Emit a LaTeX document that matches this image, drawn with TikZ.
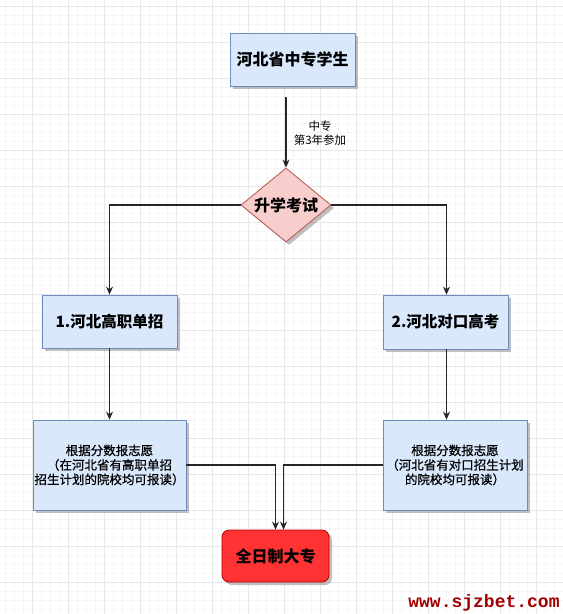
\documentclass[tikz,border=0pt]{standalone}
\usepackage{fontspec}
\setmainfont{Noto Sans CJK SC}
\newfontfamily\darkcjk{Noto Sans CJK SC}[FakeBold=0.6]
\newfontfamily\wmfont{Liberation Mono}
\usetikzlibrary{shapes.geometric,shadows,arrows.meta}
\definecolor{gridmajor}{HTML}{E8E8E8}
\definecolor{gridminor}{HTML}{F6F6F6}
\definecolor{bluefill}{HTML}{DAE8FC}
\definecolor{blueline}{HTML}{6C8EBF}
\definecolor{pinkfill}{HTML}{F8CECC}
\definecolor{pinkline}{HTML}{B85450}
\definecolor{redfill}{HTML}{FF3333}
\definecolor{redline}{HTML}{B20000}
\definecolor{wmred}{HTML}{A00000}
\tikzset{
  shade box/.style={drop shadow={shadow xshift=3pt,shadow yshift=-3pt,fill=black!45,opacity=.55}},
  bluebox/.style={draw=blueline,fill=bluefill,line width=0.8pt,shade box,inner sep=0pt,align=center},
  decision/.style={diamond,draw=pinkline,fill=pinkfill,line width=0.8pt,shade box,inner sep=0pt,aspect=1.6,minimum width=90pt,minimum height=74pt},
  endbox/.style={draw=redline,fill=redfill,line width=0.8pt,rounded corners=7pt,shade box,inner sep=0pt},
  arr/.style={draw=black!85,line width=1.1pt,-{Stealth[length=8pt,width=7pt]}},
  bigtext/.style={font=\bfseries\fontsize{16}{19}\selectfont},
  smalltext/.style={font=\darkcjk\fontsize{12.5}{14.5}\selectfont},
}
\begin{document}
\begin{tikzpicture}[x=1pt,y=-1pt]
\useasboundingbox (0,0) rectangle (563,614);
\fill[white] (0,0) rectangle (563,614);
% grid
\foreach \x in {5,14,...,563} \draw[gridminor,line width=0.6pt] (\x,0) -- (\x,614);
\foreach \y in {6,15,...,614} \draw[gridminor,line width=0.6pt] (0,\y) -- (563,\y);
\foreach \x in {32,68,...,563} \draw[gridmajor,line width=0.8pt] (\x,0) -- (\x,614);
\foreach \y in {6,42,...,614} \draw[gridmajor,line width=0.8pt] (0,\y) -- (563,\y);

% nodes
\node[bluebox,bigtext,minimum width=125pt,minimum height=53pt] (top) at (292.5,59.5) {河北省中专学生};
\node[decision,bigtext] (dia) at (286,205) {升学考试};
\node[bluebox,font=\bfseries\fontsize{15.5}{18}\selectfont,minimum width=135pt,minimum height=53pt] (b1) at (109.5,321.5) {1.河北高职单招};
\node[bluebox,font=\bfseries\fontsize{15.5}{18}\selectfont,minimum width=125pt,minimum height=54pt] (b2) at (445.5,322) {2.河北对口高考};
\node[bluebox,smalltext,minimum width=153pt,minimum height=90pt] (b3) at (109.5,465) {根据分数报志愿\\（在河北省有高职单招\\招生计划的院校均可报读）};
\node[bluebox,smalltext,minimum width=144pt,minimum height=90pt] (b4) at (455,465) {根据分数报志愿\\（河北省有对口招生计划\\的院校均可报读）};
\node[endbox,bigtext,minimum width=107pt,minimum height=52pt] (fin) at (275.5,556) {全日制大专};
\node[font=\fontsize{11.5}{13.5}\selectfont,align=center] (lab) at (320,133) {中专\\第3年参加};
\node[font=\wmfont\bfseries\fontsize{18}{20}\selectfont,text=wmred,inner sep=0pt] (wm) at (484,603) {www.sjzbet.com};

% connectors
\draw[arr,shorten <=11pt] (dia.north |- top.south) -- (dia.north);
\draw[arr] (dia.west) -| (b1.north);
\draw[arr] (dia.east) -| ([xshift=1pt]b2.north);
\draw[arr] (b1.south) -- (b3.north);
\draw[arr] ([xshift=1pt]b2.south) -- ([xshift=1pt]b2.south |- b4.north);
\draw[arr] (b3.east) -| (fin.north);
\draw[arr] (b4.west) -| ([xshift=8pt]fin.north);
\end{tikzpicture}
\end{document}
